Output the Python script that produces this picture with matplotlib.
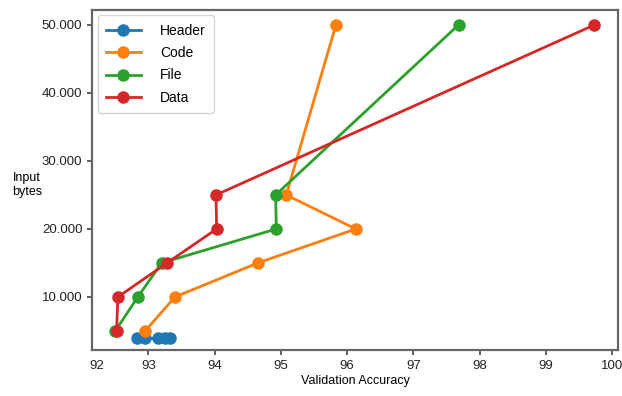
import matplotlib
matplotlib.use("Agg")
import matplotlib.pyplot as plt
from matplotlib.ticker import FuncFormatter

plt.rcParams.update({
    "font.family": "Liberation Sans",
    "font.size": 9,
})

# ── data ──────────────────────────────────────────────────────────────────────
header_acc   = [92.83, 92.95, 93.15, 93.25, 93.33]
header_bytes = [4000, 4000, 4000, 4000, 4000]

code_acc   = [92.95, 93.40, 94.65, 96.13, 95.08, 95.83]
code_bytes = [5000, 10000, 15000, 20000, 25000, 50000]

file_acc   = [92.50, 92.84, 93.20, 94.93, 94.92, 97.68]
file_bytes = [5000, 10000, 15000, 20000, 25000, 50000]

data_acc   = [92.52, 92.54, 93.28, 94.03, 94.02, 99.73]
data_bytes = [5000, 10000, 15000, 20000, 25000, 50000]

series = [
    ("Header", header_acc, header_bytes, "#1f77b4"),
    ("Code",   code_acc,   code_bytes,   "#ff7f0e"),
    ("File",   file_acc,   file_bytes,   "#2ca02c"),
    ("Data",   data_acc,   data_bytes,   "#d62728"),
]

x_ticks = [93, 94, 95, 96, 97, 98, 99, 100]
y_ticks = [10000, 20000, 30000, 40000, 50000]

# ── figure ────────────────────────────────────────────────────────────────────
fig = plt.figure(figsize=(6.22, 3.96), dpi=100)
ax = fig.add_axes([0.148, 0.116, 0.846, 0.859])

for name, xs, ys, col in series:
    ax.plot(xs, ys, "-o", color=col, lw=2, ms=8, label=name)

ax.set_xlim(92.15, 100.09)
ax.set_ylim(2200, 52200)
ax.set_xticks(x_ticks)
ax.set_yticks(y_ticks)
ax.yaxis.set_major_formatter(FuncFormatter(lambda v, p: f"{v:,.0f}".replace(",", ".")))

for s in ax.spines.values():
    s.set_color("#666666")
    s.set_linewidth(1.6)
ax.tick_params(colors="#444444", labelcolor="#222222", labelsize=9.5, width=1.2)

# "92" label sits just inside the left edge in the original
ax.annotate("92", xy=(0.0095, 0), xycoords="axes fraction",
            xytext=(0, -7), textcoords="offset points",
            ha="center", va="top", fontsize=9.5, color="#222222")

ax.set_xlabel("Validation Accuracy", fontsize=9, labelpad=2)
fig.text(0.02, 0.565, "Input\nbytes", ha="left", va="top", fontsize=9,
         linespacing=1.2)

ax.legend(loc="upper left", fontsize=10, frameon=True, edgecolor="#cccccc",
          handlelength=2.5, handletextpad=1.4, borderpad=0.6,
          labelspacing=0.6, borderaxespad=0.4)

fig.savefig("out.png", dpi=100)
